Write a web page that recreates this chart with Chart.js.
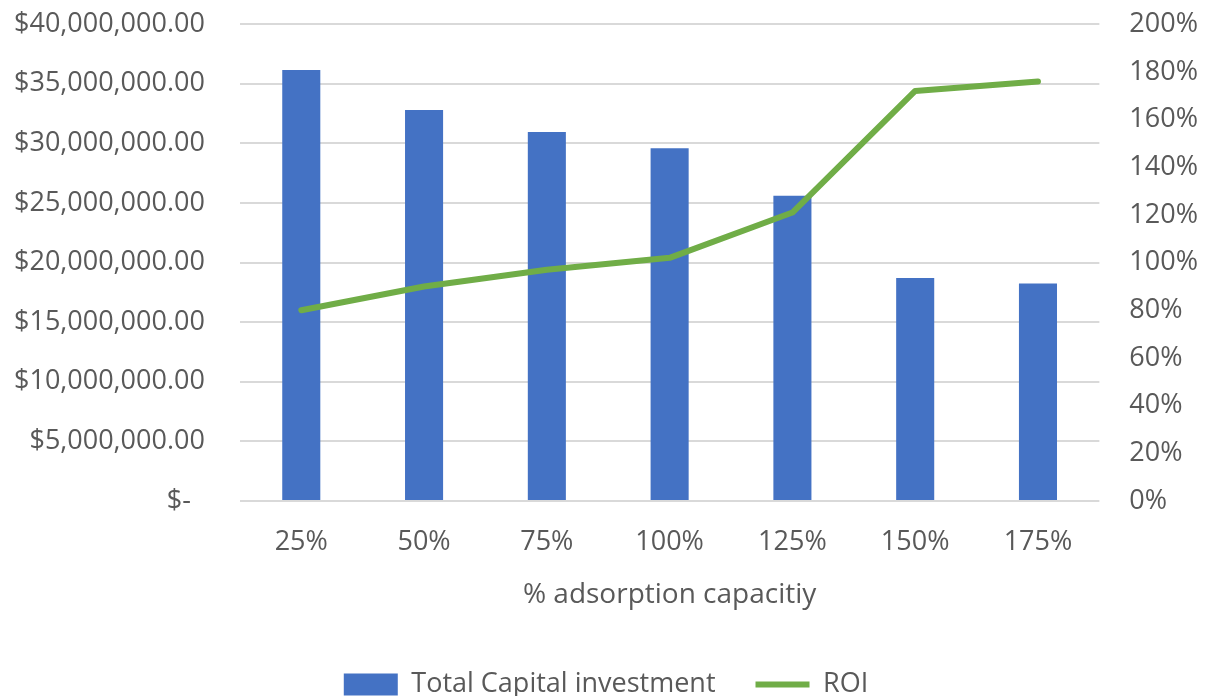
<!DOCTYPE html>
<html>
<head>
<meta charset="utf-8">
<script src="https://cdn.jsdelivr.net/npm/chart.js@4"></script>
<style>
  html, body { margin: 0; padding: 0; background: #fff; }
  #wrap { width: 1206px; height: 696px; }
</style>
</head>
<body>
<div id="wrap"><canvas id="roiChart" width="1206" height="696"></canvas></div>
<script>
// capacity steps on the x axis
const capacityLabels = ['25%', '50%', '75%', '100%', '125%', '150%', '175%'];
// total capital investment, USD
const capitalInvestment = [36150000, 32800000, 30950000, 29600000, 25600000, 18700000, 18250000];
// return on investment, percent
const roiPercent = [80, 90, 97, 102, 121, 172, 176];

const TEXT = '#595959';
const GRID = '#d9d9d9';
const FONT = "'Open Sans', 'Noto Sans', sans-serif";

// accounting style: zero shows as a dash, trailing space keeps it off the column edge
const money = v => v === 0 ? '$-  ' : '$' + v.toLocaleString('en-US', { minimumFractionDigits: 2, maximumFractionDigits: 2 });

new Chart(document.getElementById('roiChart'), {
    type: 'bar',
    data: {
        labels: capacityLabels,
        datasets: [
            {
                type: 'bar',
                label: 'Total Capital investment',
                data: capitalInvestment,
                backgroundColor: '#4472C4',
                borderWidth: 0,
                barPercentage: 0.31,
                categoryPercentage: 1,
                yAxisID: 'y',
                pointStyle: 'rect',
                order: 2
            },
            {
                type: 'line',
                label: 'ROI',
                data: roiPercent,
                borderColor: '#70AD47',
                backgroundColor: '#70AD47',
                borderWidth: 6,
                borderCapStyle: 'round',
                borderJoinStyle: 'round',
                tension: 0,
                pointRadius: 0,
                pointStyle: 'line',
                yAxisID: 'y1',
                order: 1
            }
        ]
    },
    options: {
        responsive: false,
        animation: false,
        layout: { padding: { top: 0, left: 6, right: 0, bottom: -12 } },
        plugins: {
            tooltip: { enabled: false },
            legend: {
                position: 'bottom',
                labels: {
                    usePointStyle: true,
                    pointStyleWidth: 54,
                    boxHeight: 22,
                    padding: 40,
                    color: TEXT,
                    font: { family: FONT, size: 27 },
                    sort: (a, b) => a.datasetIndex - b.datasetIndex
                }
            }
        },
        scales: {
            x: {
                grid: { display: false },
                border: { display: false },
                ticks: { color: TEXT, padding: 17, font: { family: FONT, size: 27 } },
                title: {
                    display: true,
                    text: '% adsorption capacitiy',
                    color: TEXT,
                    padding: { top: 3, bottom: 19 },
                    font: { family: FONT, size: 28 }
                }
            },
            y: {
                position: 'left',
                min: 0,
                max: 40000000,
                ticks: {
                    stepSize: 5000000,
                    color: TEXT,
                    padding: 8,
                    font: { family: FONT, size: 27 },
                    callback: money
                },
                grid: { color: GRID, lineWidth: 2, drawTicks: true, tickLength: 27, tickColor: 'rgba(0,0,0,0)' },
                border: { display: false }
            },
            y1: {
                position: 'right',
                min: 0,
                max: 200,
                ticks: {
                    stepSize: 20,
                    color: TEXT,
                    padding: 8,
                    font: { family: FONT, size: 27 },
                    callback: v => v + '%'
                },
                grid: { display: false, drawTicks: true, tickLength: 22 },
                border: { display: false }
            }
        }
    }
});
</script>
</body>
</html>
